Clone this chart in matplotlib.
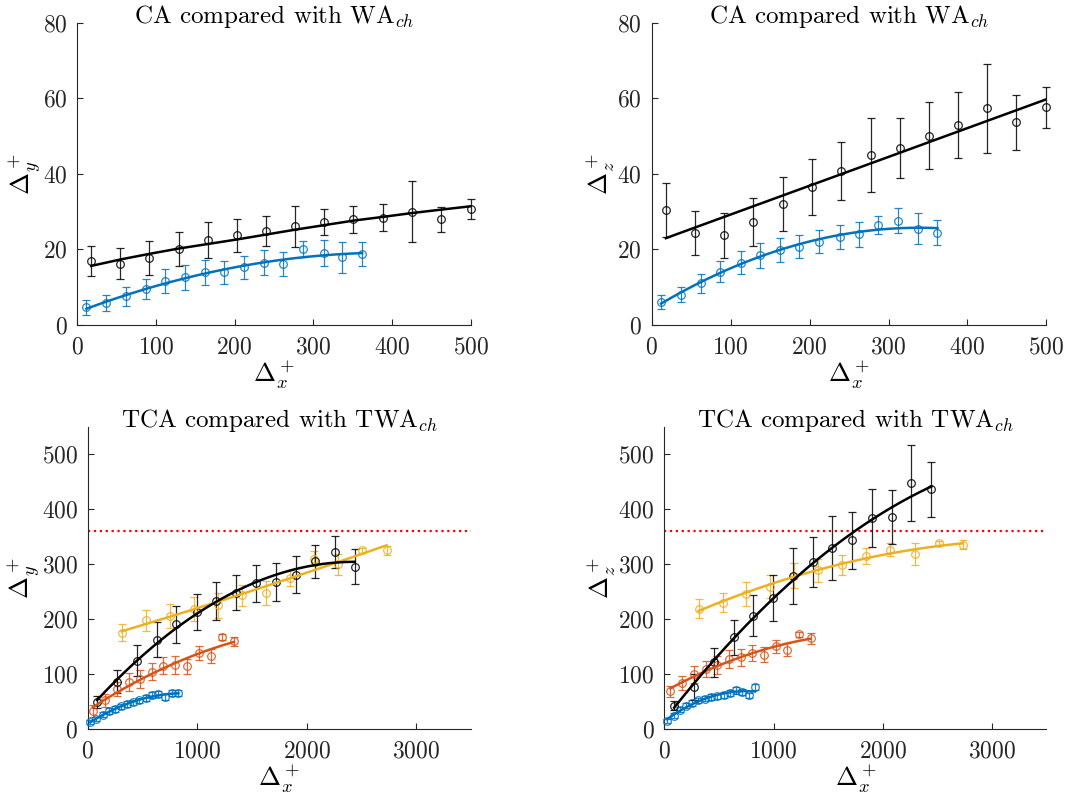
import matplotlib
matplotlib.use("Agg")
import matplotlib.pyplot as plt
import numpy as np

plt.rcParams['font.family'] = 'serif'
plt.rcParams['font.serif'] = ['cmr10']
plt.rcParams['mathtext.fontset'] = 'cm'
plt.rcParams['axes.formatter.use_mathtext'] = True

BLUE = '#0072BD'
ORANGE = '#D95319'
YELLOW = '#EDB120'
BLACK = '#000000'

# ---- top left: CA vs WA_ch, Delta_y ----
tl_black_x = [18, 55, 92, 129, 166, 203, 240, 277, 314, 351, 389, 425, 462, 500]
tl_black_y = [16.8, 16.2, 17.7, 20.1, 22.4, 23.7, 24.9, 26.1, 27.2, 27.9, 28.4, 30.0, 27.9, 30.6]
tl_black_e = [4.0, 4.1, 4.4, 4.4, 4.8, 4.4, 4.0, 5.5, 3.5, 3.6, 3.6, 8.1, 3.2, 2.7]
# fitted curve, at the same x positions
tl_black_fit = [15.6, 17.3, 18.8, 20.2, 21.4, 22.6, 23.9, 25.2, 26.4, 27.6, 28.6, 29.6, 30.5, 31.4]
tl_blue_x = [12, 37, 62, 87, 112, 137, 162, 187, 212, 237, 262, 287, 313, 337, 362]
tl_blue_y = [4.6, 5.7, 7.6, 9.5, 11.5, 12.6, 13.9, 13.9, 15.2, 16.4, 16.1, 20.1, 19.0, 17.9, 18.8]
tl_blue_e = [1.9, 2.1, 2.5, 2.7, 3.2, 3.3, 3.3, 3.1, 3.0, 3.3, 3.2, 2.2, 3.4, 4.1, 3.2]

# ---- top right: CA vs WA_ch, Delta_z ----
tr_black_x = [18, 55, 92, 129, 166, 203, 240, 278, 314, 351, 388, 425, 462, 499]
tr_black_y = [30.4, 24.3, 23.7, 27.3, 32.0, 36.4, 40.7, 45.1, 46.8, 50.1, 53.0, 57.4, 53.6, 57.6]
tr_black_e = [7.1, 5.9, 6.0, 6.4, 7.2, 7.4, 7.6, 9.8, 8.0, 8.9, 8.7, 11.8, 7.4, 5.5]
tr_blue_x = [12, 37, 62, 87, 113, 137, 162, 187, 212, 238, 263, 287, 312, 337, 362]
tr_blue_y = [6.1, 8.0, 11.0, 14.1, 16.5, 18.4, 19.8, 20.7, 22.0, 23.3, 24.0, 26.4, 27.6, 25.5, 24.4]
tr_blue_e = [1.9, 2.0, 2.5, 2.8, 3.0, 3.3, 3.2, 3.1, 3.0, 3.2, 3.3, 2.3, 3.4, 4.0, 3.3]

# ---- bottom left: TCA vs TWA_ch, Delta_y ----
bl_black_x = [86, 266, 450, 630, 810, 994, 1174, 1355, 1538, 1719, 1899, 2080, 2260, 2440]
bl_black_y = [49, 86, 124, 162, 190, 213, 233, 248, 265, 267, 281, 305, 322, 295]
bl_black_e = [11, 21, 28, 32, 33, 33, 34, 32, 34, 35, 34, 30, 29, 32]
bl_yellow_x = [309, 529, 750, 969, 1190, 1410, 1630, 1850, 2070, 2290, 2508, 2731]
bl_yellow_y = [175, 198, 205, 218, 225, 243, 248, 275, 310, 300, 325, 325]
bl_yellow_e = [16, 19, 22, 22, 23, 19, 22, 15, 14, 19, 5, 8]
bl_orange_x = [46, 162, 266, 373, 477, 584, 691, 798, 905, 1015, 1122, 1229, 1336]
bl_orange_y = [32, 52, 72, 85, 91, 104, 115, 116, 114, 138, 132, 167, 159]
bl_orange_e = [11, 12, 13, 16, 16, 16, 16, 17, 14, 12, 13, 6, 8]
bl_blue_x = [24, 80, 138, 193, 248, 303, 361, 416, 471, 529, 587, 645, 706, 768, 829]
bl_blue_y = [12, 18, 26, 32, 36, 41, 45, 48, 52, 56, 62, 63, 58, 65, 65]
bl_blue_e = [4, 4, 5, 5, 5, 5, 5, 5, 5, 5, 5, 5, 6, 5, 5]

# ---- bottom right: TCA vs TWA_ch, Delta_z ----
br_black_x = [89, 272, 453, 636, 813, 997, 1177, 1358, 1538, 1722, 1902, 2086, 2263, 2446]
br_black_y = [42, 76, 121, 167, 206, 238, 279, 304, 329, 343, 384, 385, 448, 436]
br_black_e = [8, 23, 27, 32, 37, 42, 51, 46, 58, 52, 52, 49, 69, 50]
br_yellow_x = [312, 532, 749, 966, 1187, 1404, 1627, 1844, 2064, 2291, 2514, 2731]
br_yellow_y = [219, 230, 246, 259, 279, 289, 298, 315, 326, 318, 338, 335]
br_yellow_e = [17, 18, 22, 21, 23, 21, 18, 14, 12, 20, 4, 8]
br_orange_x = [55, 159, 266, 376, 480, 590, 700, 804, 911, 1018, 1125, 1232, 1339]
br_orange_y = [68, 84, 99, 109, 116, 127, 130, 138, 135, 150, 144, 172, 165]
br_orange_e = [10, 13, 15, 15, 16, 16, 16, 14, 14, 12, 12, 5, 10]
br_blue_x = [24, 86, 138, 199, 254, 306, 367, 422, 480, 541, 596, 657, 713, 774, 829]
br_blue_y = [14, 24, 35, 42, 47, 52, 55, 58, 59, 62, 65, 70, 67, 61, 76]
br_blue_e = [4, 4, 5, 5, 5, 5, 5, 5, 5, 5, 5, 6, 6, 5, 6]

red_limit = 360


def series(ax, x, y, e, color, deg=2, fit=None):
    x = np.array(x, float)
    y = np.array(y, float)
    eb = ax.errorbar(x, y, yerr=e, fmt='o', mfc='none', mec=color, ecolor=color,
                     ms=5.5, mew=0.9, elinewidth=0.9, capsize=3, capthick=0.9,
                     alpha=0.85, zorder=3)
    for art in eb.get_children():
        art.set_clip_on(False)
    if fit is None:
        p = np.polyfit(x, y, deg)
        xs = np.linspace(x[0], x[-1], 200)
        ax.plot(xs, np.polyval(p, xs), color=color, lw=1.8, zorder=4)
    else:
        ax.plot(x, fit, color=color, lw=1.8, zorder=4)


def style(ax, title, ylab, xlim, ylim, xticks, yticks):
    ax.set_xlim(*xlim)
    ax.set_ylim(*ylim)
    ax.set_xticks(xticks)
    ax.set_yticks(yticks)
    for s in ['top', 'right']:
        ax.spines[s].set_visible(False)
    for s in ['left', 'bottom']:
        ax.spines[s].set_color('#262626')
        ax.spines[s].set_linewidth(0.8)
    ax.tick_params(direction='in', length=4, width=0.8, color='#262626',
                   labelsize=17, labelcolor='#262626')
    ax.tick_params(axis='x', pad=8)
    ax.tick_params(axis='y', pad=7)
    # title baseline sits on the top of the axis, as in the original
    ax.text(0.5, 1.0, title, transform=ax.transAxes, ha='center',
            va='baseline', fontsize=18)
    ax.set_ylabel(ylab, fontsize=19, labelpad=0)
    ax.set_xlabel(r'$\Delta_x^+$', fontsize=19, labelpad=1)


fig = plt.figure(figsize=(10.7, 8), dpi=100)
ax1 = fig.add_axes([0.072, 0.594, 0.368, 0.3775])
ax2 = fig.add_axes([0.609, 0.594, 0.369, 0.3775])
ax3 = fig.add_axes([0.082, 0.089, 0.358, 0.3775])
ax4 = fig.add_axes([0.621, 0.089, 0.357, 0.3775])

series(ax1, tl_black_x, tl_black_y, tl_black_e, BLACK, fit=tl_black_fit)
series(ax1, tl_blue_x, tl_blue_y, tl_blue_e, BLUE, 2)
style(ax1, r'CA compared with WA$_{ch}$', r'$\Delta_y^+$', (0, 500), (0, 80),
      range(0, 501, 100), range(0, 81, 20))

series(ax2, tr_black_x, tr_black_y, tr_black_e, BLACK, 1)
series(ax2, tr_blue_x, tr_blue_y, tr_blue_e, BLUE, 2)
style(ax2, r'CA compared with WA$_{ch}$', r'$\Delta_z^+$', (0, 500), (0, 80),
      range(0, 501, 100), range(0, 81, 20))

for ax, d in [(ax3, 'bl'), (ax4, 'br')]:
    g = globals()
    series(ax, g[d + '_blue_x'], g[d + '_blue_y'], g[d + '_blue_e'], BLUE, 2)
    series(ax, g[d + '_orange_x'], g[d + '_orange_y'], g[d + '_orange_e'], ORANGE, 2)
    series(ax, g[d + '_yellow_x'], g[d + '_yellow_y'], g[d + '_yellow_e'], YELLOW, 2)
    series(ax, g[d + '_black_x'], g[d + '_black_y'], g[d + '_black_e'], BLACK, 2)
    ax.axhline(red_limit, color='red', ls=':', lw=1.6, zorder=2)

style(ax3, r'TCA compared with TWA$_{ch}$', r'$\Delta_y^+$', (0, 3500), (0, 550),
      range(0, 3001, 1000), range(0, 501, 100))
style(ax4, r'TCA compared with TWA$_{ch}$', r'$\Delta_z^+$', (0, 3500), (0, 550),
      range(0, 3001, 1000), range(0, 501, 100))

fig.savefig('out.png', dpi=100)
